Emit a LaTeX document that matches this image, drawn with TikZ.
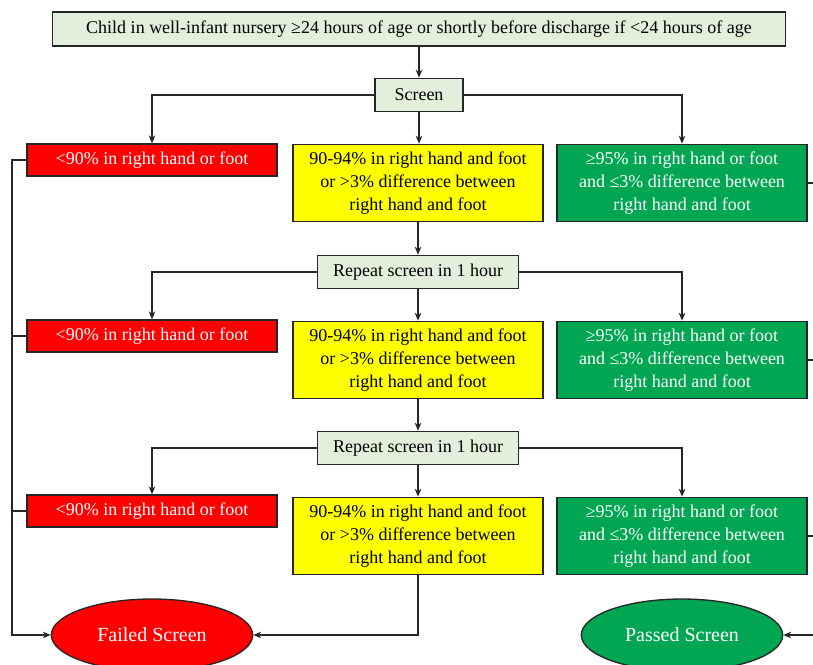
\documentclass[tikz,border=0pt]{standalone}
\usepackage{fontspec}
\setmainfont{Liberation Serif}
\usetikzlibrary{arrows.meta, positioning, calc, shapes.geometric}

\definecolor{paleGreen}{HTML}{E2EFDA}
\definecolor{alarmRed}{HTML}{FF0000}
\definecolor{cautionYellow}{HTML}{FFFF00}
\definecolor{passGreen}{HTML}{00A651}

\begin{document}
\begin{tikzpicture}[
    x=0.75pt, y=-0.75pt,
    base/.style={rectangle, draw=black!85, line width=1pt, align=center,
        inner sep=2pt, font=\fontsize{13.5}{17.5}\selectfont},
    startbox/.style={base, fill=paleGreen, minimum width=550pt, minimum height=25.5pt},
    checkbox/.style={base, fill=paleGreen, minimum height=25pt},
    lowbox/.style={base, fill=alarmRed, text=white,
        minimum width=187.5pt, minimum height=24pt},
    midbox/.style={base, fill=cautionYellow,
        minimum width=187.5pt, minimum height=58pt},
    highbox/.style={base, fill=passGreen, text=white,
        minimum width=187.5pt, minimum height=58pt},
    outcome/.style={ellipse, draw=black!85, line width=1pt, text=white,
        minimum width=151pt, minimum height=54pt,
        font=\fontsize{15}{18}\selectfont},
    line/.style={line width=0.9pt, draw=black!85},
    arr/.style={line, -{Stealth[length=6pt, width=5pt]}}
]
\useasboundingbox (0,0) rectangle (813,664);

%% Start
\node[startbox] (nursery) at (419,29)
    {Child in well-infant nursery ≥24 hours of age or shortly before discharge if <24 hours of age};

%% Screens
\node[checkbox, minimum width=66pt] (screen)  at (419,95)  {Screen};
\node[checkbox, minimum width=151pt] (repeat1) at (418,272) {Repeat screen in 1 hour};
\node[checkbox, minimum width=151pt] (repeat2) at (418,448) {Repeat screen in 1 hour};

%% Results, round 1
\node[lowbox]  (low1)  at (152,160) {<90\% in right hand or foot};
\node[midbox]  (mid1)  at (418,183) {90-94\% in right hand and foot\\or >3\% difference between\\right hand and foot};
\node[highbox] (high1) at (682,183) {≥95\% in right hand or foot\\and ≤3\% difference between\\right hand and foot};

%% Results, round 2
\node[lowbox]  (low2)  at (152,336) {<90\% in right hand or foot};
\node[midbox]  (mid2)  at (418,360) {90-94\% in right hand and foot\\or >3\% difference between\\right hand and foot};
\node[highbox] (high2) at (682,360) {≥95\% in right hand or foot\\and ≤3\% difference between\\right hand and foot};

%% Results, round 3
\node[lowbox]  (low3)  at (152,511) {<90\% in right hand or foot};
\node[midbox]  (mid3)  at (418,536) {90-94\% in right hand and foot\\or >3\% difference between\\right hand and foot};
\node[highbox] (high3) at (682,536) {≥95\% in right hand or foot\\and ≤3\% difference between\\right hand and foot};

%% Outcomes
\node[outcome, fill=alarmRed]  (failed) at (152,635) {Failed Screen};
\node[outcome, fill=passGreen] (passed) at (682,635) {Passed Screen};

%% Rails
\coordinate (railL) at (12,160);
\coordinate (railR) at (813,183);

%% ── Start → Screen ───────────────────────────────────────────────
\draw[arr] (nursery.south) -- (screen.north);

%% ── Screen → results ─────────────────────────────────────────────
\draw[arr] (screen.west) -| (low1.north);
\draw[arr] (screen.east) -| (high1.north);
\draw[arr] (screen.south) -- (screen.south |- mid1.north);
\draw[arr] (mid1.south) -- (repeat1.north);

%% ── Repeat 1 → results ───────────────────────────────────────────
\draw[arr] (repeat1.west) -| (low2.north);
\draw[arr] (repeat1.east) -| (high2.north);
\draw[arr] (repeat1.south) -- (mid2.north);
\draw[arr] (mid2.south) -- (repeat2.north);

%% ── Repeat 2 → results ───────────────────────────────────────────
\draw[arr] (repeat2.west) -| (low3.north);
\draw[arr] (repeat2.east) -| (high3.north);
\draw[arr] (repeat2.south) -- (mid3.north);

%% ── Failed ───────────────────────────────────────────────────────
\draw[arr] (low1.west) -- (railL) |- (failed.west);
\draw[line] (low2.west) -- (railL |- low2.west);
\draw[line] (low3.west) -- (railL |- low3.west);
\draw[arr] (mid3.south) |- (failed.east);

%% ── Passed ───────────────────────────────────────────────────────
\draw[line] (high1.east) -- (railR |- high1.east);
\draw[line] (high2.east) -- (railR |- high2.east);
\draw[line] (high3.east) -- (railR |- high3.east);
\draw[arr] (railR |- passed.east) -- (passed.east);

\end{tikzpicture}
\end{document}
